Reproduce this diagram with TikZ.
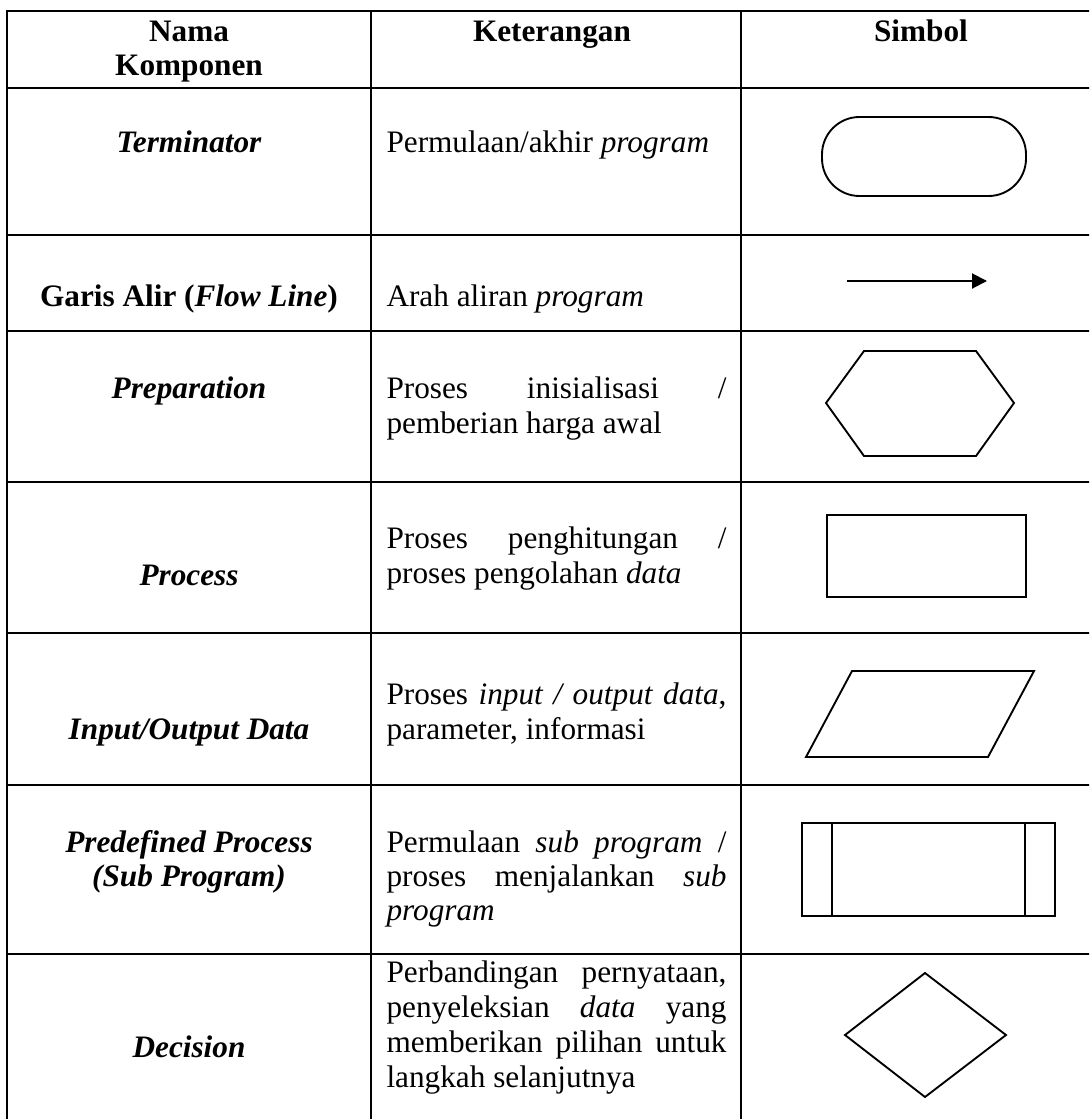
\documentclass[tikz,border=0pt]{standalone}
\usepackage{fontspec}
\setmainfont{Liberation Serif}
\usetikzlibrary{arrows.meta}
\newcommand{\jline}[1]{\makebox[136pt][s]{#1}}
\begin{document}
\begin{tikzpicture}[x=0.4pt,y=-0.4pt,
  gridline/.style={line width=1.1pt, line cap=rect},
  sym/.style={line width=0.75pt, line join=miter},
  hd/.style={anchor=base, inner sep=0pt, font=\fontsize{12.5}{14}\selectfont\bfseries},
  nm/.style={anchor=base, inner sep=0pt, font=\fontsize{12.5}{14}\selectfont\bfseries\itshape},
  ds/.style={anchor=base west, inner sep=0pt, font=\fontsize{12.5}{14}\selectfont},
]
\useasboundingbox (0,0) rectangle (1089,1119);
\begin{scope}
  \clip (0,0) rectangle (1089,1119);
  \draw[gridline] (7,11) -- (1130,11);
  \foreach \yy in {88,235,331,482,633,785,954}
    \draw[gridline] (7,\yy) -- (1130,\yy);
  \draw[gridline] (7,11) -- (7,1140);
  \draw[gridline] (371,11) -- (371,1140);
  \draw[gridline] (741,11) -- (741,1140);
\end{scope}

% header
\node[hd] (h1a) at (189,42) {Nama};
\node[hd] (h1b) at (189,76) {Komponen};
\node[hd] (h2) at (552,42) {Keterangan};
\node[hd] (h3) at (921,42) {Simbol};

% Terminator
\node[nm] (n1) at (189,153) {Terminator};
\node[ds] (d1) at (386,152) {Permulaan/akhir \textit{program}};
\draw[sym, rounded corners=15pt] (822,117) rectangle (1026,196);

% Flow line
\node[nm] (n2) at (189,306) {{\upshape Garis Alir (}Flow Line{\upshape )}};
\node[ds] (d2) at (386,306) {Arah aliran \textit{program}};
\coordinate (fa) at (847,281);
\coordinate (fb) at (987,281);
\draw[line width=0.8pt, -{Triangle[length=6pt,width=6pt]}] (fa) -- (fb);

% Preparation
\node[nm] (n3) at (189,398) {Preparation};
\node[ds] (d3a) at (386,398) {\jline{Proses inisialisasi /}};
\node[ds] (d3b) at (386,433) {pemberian harga awal};
\draw[sym] (826,403) -- (864,351) -- (976,351) -- (1014,403) -- (976,456) -- (864,456) -- cycle;

% Process
\node[nm] (n4) at (189,585) {Process};
\node[ds] (d4a) at (386,548) {\jline{Proses penghitungan /}};
\node[ds] (d4b) at (386,583) {proses pengolahan \textit{data}};
\draw[sym] (827,515) rectangle (1026,597);

% Input/Output
\node[nm] (n5) at (189,739) {Input/Output Data};
\node[ds] (d5a) at (386,704) {\jline{Proses \textit{input / output data},}};
\node[ds] (d5b) at (386,739) {parameter, informasi};
\draw[sym] (852,671) -- (1034,671) -- (988,757) -- (806,757) -- cycle;

% Predefined process
\node[nm] (n6a) at (189,852) {Predefined Process};
\node[nm] (n6b) at (189,886) {(Sub Program)};
\node[ds] (d6a) at (386,852) {\jline{Permulaan \textit{sub program} /}};
\node[ds] (d6b) at (386,886) {\jline{proses menjalankan \textit{sub}}};
\node[ds] (d6c) at (386,920) {\textit{program}};
\draw[sym] (802,823) rectangle (1055,916);
\draw[sym] (832,823) -- (832,916);
\draw[sym] (1025,823) -- (1025,916);

% Decision
\node[nm] (n7) at (189,1057) {Decision};
\node[ds] (d7a) at (386,982) {\jline{Perbandingan pernyataan,}};
\node[ds] (d7b) at (386,1017) {\jline{penyeleksian \textit{data} yang}};
\node[ds] (d7c) at (386,1052) {\jline{memberikan pilihan untuk}};
\node[ds] (d7d) at (386,1087) {langkah selanjutnya};
\draw[sym] (925,973) -- (1006,1035) -- (925,1097) -- (845,1035) -- cycle;
\end{tikzpicture}
\end{document}
